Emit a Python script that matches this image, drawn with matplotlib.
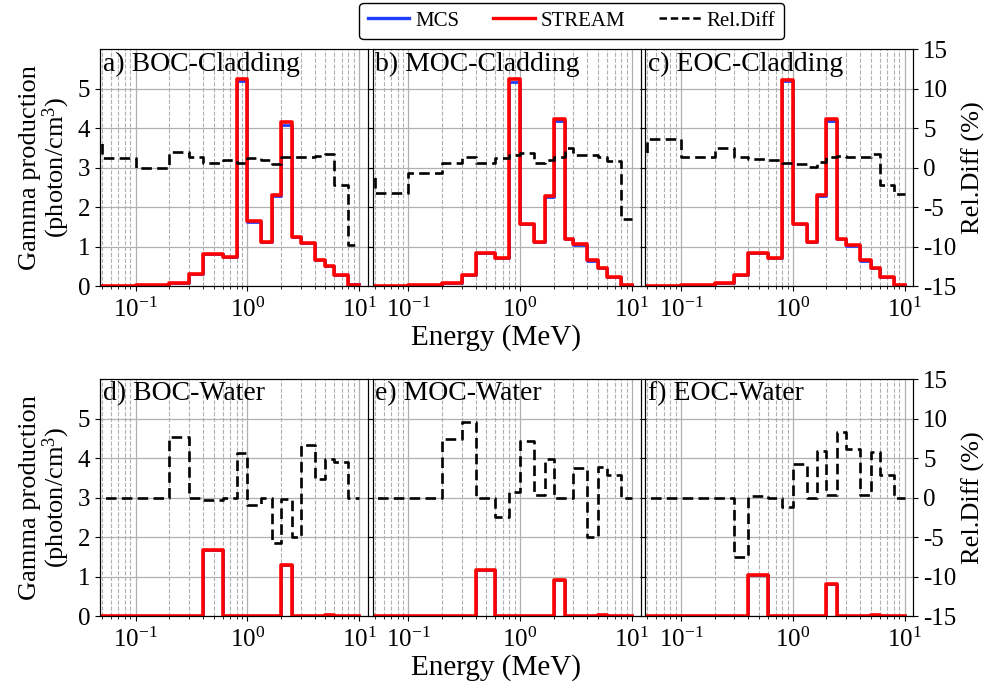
import numpy as np
import matplotlib
matplotlib.use('Agg')
import matplotlib.pyplot as plt
from matplotlib.ticker import LogLocator, NullFormatter
from matplotlib.lines import Line2D

plt.rcParams['font.family'] = 'Liberation Serif'
plt.rcParams['mathtext.fontset'] = 'custom'
plt.rcParams['mathtext.rm'] = 'Liberation Serif'
plt.rcParams['mathtext.it'] = 'Liberation Serif:italic'
plt.rcParams['axes.unicode_minus'] = False

# group edges (MeV)
edges = [0.02, 0.05, 0.1, 0.2, 0.3, 0.4, 0.6, 0.8, 1.0, 1.33, 1.66, 2.0,
         2.5, 3.0, 4.0, 5.0, 6.0, 8.0, 10.0]

# cladding
mcs_boc_clad = [0, 0.01, 0.04, 0.07, 0.30, 0.82, 0.74, 5.20, 1.62, 1.11, 2.29, 4.09, 1.23, 1.09, 0.66, 0.51, 0.29, 0.045]
str_boc_clad = [0, 0.01, 0.04, 0.07, 0.30, 0.82, 0.74, 5.23, 1.64, 1.12, 2.30, 4.15, 1.24, 1.10, 0.67, 0.52, 0.29, 0.04]
rd_boc_clad = [3.5, 1.2, 0.0, 2.0, 1.3, 0.6, 0.9, 0.6, 1.2, 1.0, 0.5, 1.4, 1.3, 1.3, 1.5, 1.7, -2.2, -9.8]

mcs_moc_clad = [0, 0.01, 0.04, 0.07, 0.27, 0.83, 0.71, 5.17, 1.56, 1.11, 2.25, 4.17, 1.18, 1.04, 0.64, 0.45, 0.24, 0.02]
str_moc_clad = [0, 0.01, 0.04, 0.07, 0.27, 0.84, 0.72, 5.23, 1.58, 1.12, 2.27, 4.24, 1.20, 1.06, 0.65, 0.46, 0.24, 0.02]
rd_moc_clad = [-1.0, -3.2, -0.7, 0.6, 1.3, 0.55, 1.2, 1.6, 1.8, 0.55, 1.0, 1.4, 2.45, 1.6, 1.6, 1.4, 0.8, -6.5]

mcs_eoc_clad = [0, 0.01, 0.04, 0.07, 0.27, 0.83, 0.70, 5.18, 1.57, 1.12, 2.29, 4.19, 1.18, 1.02, 0.64, 0.45, 0.24, 0.02]
str_eoc_clad = [0, 0.01, 0.04, 0.07, 0.27, 0.84, 0.71, 5.21, 1.58, 1.12, 2.31, 4.24, 1.20, 1.03, 0.65, 0.46, 0.24, 0.02]
rd_eoc_clad = [1.5, 3.6, 1.3, 2.45, 1.3, 1.1, 0.9, 0.6, 0.45, 0.1, 0.7, 1.3, 1.45, 1.3, 1.3, 1.75, -2.2, -3.3]

# water
mcs_boc_wat = [0, 0, 0, 0, 0, 1.67, 0, 0, 0, 0, 0, 1.29, 0, 0, 0, 0.02, 0, 0]
str_boc_wat = [0, 0, 0, 0, 0, 1.67, 0, 0, 0, 0, 0, 1.29, 0, 0, 0, 0.02, 0, 0]
rd_boc_wat = [0, 0, 0, 7.6, 0, -0.3, 0, 5.6, -1.0, -0.1, -5.8, -0.2, -5.0, 6.7, 2.4, 4.9, 4.5, 0]

mcs_moc_wat = [0, 0, 0, 0, 0, 1.16, 0, 0, 0, 0, 0, 0.91, 0, 0, 0, 0.02, 0, 0]
str_moc_wat = [0, 0, 0, 0, 0, 1.16, 0, 0, 0, 0, 0, 0.91, 0, 0, 0, 0.02, 0, 0]
rd_moc_wat = [0, 0, 0, 7.4, 9.5, 0, -2.5, 0.7, 7.1, 0.3, 4.85, 0, 0, 3.7, -5.0, 3.9, 2.9, 0]

mcs_eoc_wat = [0, 0, 0, 0, 0, 1.05, 0, 0, 0, 0, 0, 0.82, 0, 0, 0, 0.02, 0, 0]
str_eoc_wat = [0, 0, 0, 0, 0, 1.05, 0, 0, 0, 0, 0, 0.82, 0, 0, 0, 0.02, 0, 0]
rd_eoc_wat = [0, 0, 0, 0, -7.5, 0.25, 0, -1.2, 4.3, 0, 5.9, 0.3, 8.35, 6.2, 0.3, 5.8, 2.9, 0]

titles = ['a) BOC-Cladding', 'b) MOC-Cladding', 'c) EOC-Cladding',
          'd) BOC-Water', 'e) MOC-Water', 'f) EOC-Water']
mcs_all = [mcs_boc_clad, mcs_moc_clad, mcs_eoc_clad, mcs_boc_wat, mcs_moc_wat, mcs_eoc_wat]
str_all = [str_boc_clad, str_moc_clad, str_eoc_clad, str_boc_wat, str_moc_wat, str_eoc_wat]
rd_all = [rd_boc_clad, rd_moc_clad, rd_eoc_clad, rd_boc_wat, rd_moc_wat, rd_eoc_wat]


def stepy(v):
    return list(v) + [v[-1]]


fig, axs = plt.subplots(2, 3, figsize=(9.95, 6.91), dpi=100)
fig.subplots_adjust(left=0.1005, right=0.918, top=0.929, bottom=0.1085,
                    wspace=0.018, hspace=0.392)

TICK = 18
for i, ax in enumerate(axs.flat):
    r, c = divmod(i, 3)
    ax.set_xscale('log')
    ax.set_xlim(0.048, 12)
    ax.set_ylim(0, 6)
    ax.set_yticks(range(6))
    ax.xaxis.set_minor_locator(LogLocator(base=10, subs=np.arange(2, 10)))
    ax.xaxis.set_minor_formatter(NullFormatter())
    ax.grid(True, which='major', color='#b0b0b0', lw=0.9)
    ax.grid(True, which='minor', axis='x', color='#b0b0b0', ls='--', lw=0.8)
    ax.set_axisbelow(True)

    ax.plot(edges, stepy(mcs_all[i]), drawstyle='steps-post', color='#1f3fff', lw=2.0)
    ax.plot(edges, stepy(str_all[i]), drawstyle='steps-post', color='#ff0000', lw=2.6)

    ax2 = ax.twinx()
    ax2.set_ylim(-15, 15)
    ax2.set_yticks([-15, -10, -5, 0, 5, 10, 15])
    ax2.plot(edges, stepy(rd_all[i]), drawstyle='steps-post', color='black',
             lw=1.9, ls=(0, (4, 2)))

    ax.tick_params(labelsize=TICK)
    ax.tick_params(axis='x', pad=5)
    ax2.tick_params(labelsize=TICK)
    if c != 0:
        ax.tick_params(labelleft=False)
    if c != 2:
        ax2.tick_params(labelright=False)
    else:
        ax2.set_ylabel('Rel.Diff (%)', fontsize=19, labelpad=4)
    if c == 0:
        ax.set_ylabel('Gamma production\n(photon/cm$^3$)', fontsize=19,
                      linespacing=1.0, labelpad=4)
    if c == 1:
        ax.set_xlabel('Energy (MeV)', fontsize=21)
        ax.xaxis.set_label_coords(0.46, -0.16)

    ax.text(0.01, 0.99, titles[i], transform=ax.transAxes, ha='left', va='top',
            fontsize=20)

handles = [Line2D([], [], color='#1f3fff', lw=2.4),
           Line2D([], [], color='#ff0000', lw=2.4),
           Line2D([], [], color='black', lw=1.8, ls=(0, (3, 1.5)))]
fig.legend(handles, ['MCS', 'STREAM', 'Rel.Diff'], loc='upper center',
           bbox_to_anchor=(0.5745, 0.999), ncol=3, fontsize=15, frameon=True,
           edgecolor='black', fancybox=True, framealpha=1,
           handlelength=2.0, columnspacing=1.6, borderpad=0.4,
           borderaxespad=0.1, handletextpad=0.3)

fig.savefig('out.png', dpi=100)
